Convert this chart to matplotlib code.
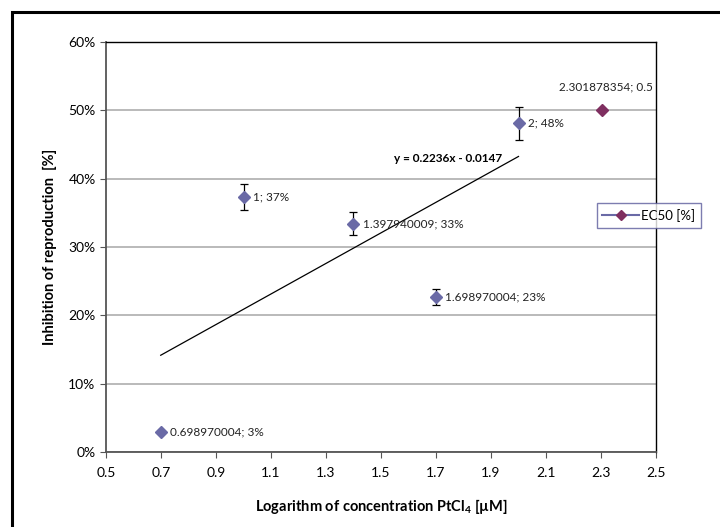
import numpy as np
import matplotlib
matplotlib.use('Agg')
import matplotlib.pyplot as plt
from matplotlib.lines import Line2D
from matplotlib.patches import Rectangle

plt.rcParams['font.family'] = ['Lato', 'DejaVu Sans']

# data
log_conc = [0.698970004, 1.0, 1.397940009, 1.698970004, 2.0]
inhibition = [0.03, 0.373, 0.334, 0.227, 0.481]
inhib_err = [0.0, 0.019, 0.017, 0.012, 0.024]
point_labels = ['0.698970004; 3%', '1; 37%', '1.397940009; 33%', '1.698970004; 23%', '2; 48%']

ec50_x = [2.301878354]
ec50_y = [0.5]
ec50_label = '2.301878354; 0.5'

slope = 0.2236
intercept = -0.0147
x_ticks = [0.5, 0.7, 0.9, 1.1, 1.3, 1.5, 1.7, 1.9, 2.1, 2.3, 2.5]
y_ticks = [0.0, 0.1, 0.2, 0.3, 0.4, 0.5, 0.6]

blue = '#6a6aa6'
magenta = '#7f2f60'

fig = plt.figure(figsize=(7.2, 5.27), dpi=100)
ax = fig.add_axes([106/720, 75/527, 550/720, 410/527])

# gridlines
ax.set_axisbelow(True)
ax.yaxis.grid(True, color='#b4b4b4', linewidth=1.3)

# points with error bars
ax.errorbar(log_conc, inhibition, yerr=inhib_err, fmt='none', ecolor='black',
			elinewidth=0.9, capsize=3, capthick=0.9, zorder=3)
ax.plot(log_conc, inhibition, linestyle='none', marker='D', markersize=6,
		color=blue, zorder=4)
for x, y, lbl in zip(log_conc, inhibition, point_labels):
	ax.annotate(lbl, (x, y), xytext=(7, 0), textcoords='offset points',
				ha='left', va='center', fontsize=8.5, color='#222222')

# EC50 point
ax.plot(ec50_x, ec50_y, linestyle='none', marker='D', markersize=6,
		color=magenta, zorder=4)
ax.annotate(ec50_label, (ec50_x[0], ec50_y[0]), xytext=(3, 13), textcoords='offset points',
			ha='center', va='bottom', fontsize=8.5, color='#222222')

# linear trend line
tx = np.array([min(log_conc), max(log_conc)])
ax.plot(tx, slope*tx + intercept, color='black', linewidth=0.9, zorder=2)
ax.text(1.745, 0.429, 'y = 0.2236x - 0.0147', fontsize=8.5, fontweight='bold',
		ha='center', va='center')

ax.set_xlim(0.5, 2.5)
ax.set_ylim(0.0, 0.6)
ax.set_xticks(x_ticks)
ax.set_xticklabels(['%.1f' % v for v in x_ticks])
ax.set_yticks(y_ticks)
ax.set_yticklabels(['%d%%' % round(v*100) for v in y_ticks])
ax.tick_params(axis='both', labelsize=10, direction='out', length=4, color='#555555')
ax.tick_params(axis='x', pad=7)

for side in ['left', 'bottom']:
	ax.spines[side].set_color('#555555')
	ax.spines[side].set_linewidth(1.3)
for side in ['top', 'right']:
	ax.spines[side].set_color('black')
	ax.spines[side].set_linewidth(1.0)

ax.set_xlabel('Logarithm of concentration PtCl$_\\mathregular{4}$ [\u00b5M]', fontsize=10.5,
			  fontweight='bold', labelpad=13)
ax.set_ylabel('Inhibition of reproduction  [%]', fontsize=10.5, fontweight='bold', labelpad=8)

# legend
handle = Line2D([], [], color=blue, linewidth=1.5, marker='D', markersize=5.5,
				markerfacecolor=magenta, markeredgecolor=magenta)
leg = fig.legend([handle], ['EC50 [%]'], loc='center', bbox_to_anchor=(649/720, 1 - 215.5/527),
				 fontsize=9.5, frameon=True, fancybox=False, handlelength=2.8,
				 borderpad=0.45, handletextpad=0.15, borderaxespad=0)
leg.get_frame().set_edgecolor('#5c5c9c')
leg.get_frame().set_linewidth(1.0)

# outer chart frame
fig.add_artist(Rectangle((12/720, -0.2), 1.2, 1.2 - 12/527, transform=fig.transFigure,
						 fill=False, edgecolor='black', linewidth=2.2))

fig.savefig('out.png', dpi=100)
